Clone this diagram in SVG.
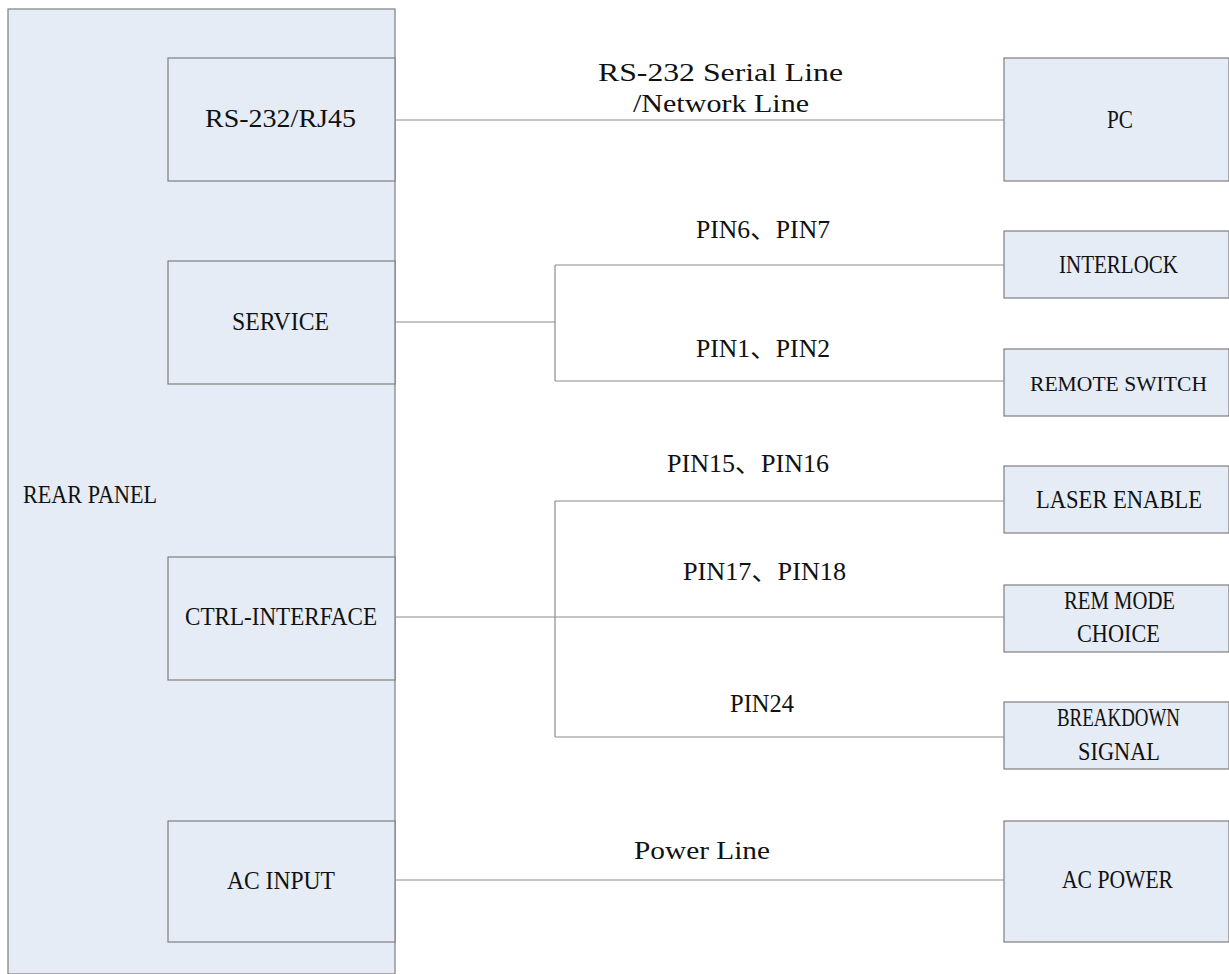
<svg xmlns="http://www.w3.org/2000/svg" width="1229" height="974" viewBox="0 0 1229 974">
<style>
.box{fill:#E5ECF6;stroke:#7F7F7F;stroke-width:1.2}
.ln{fill:none;stroke:#8C8C8C;stroke-width:1.2}
text{font-family:"Liberation Serif","Noto Sans CJK SC",serif;font-size:25px;fill:#111}
</style>
<rect width="1229" height="974" fill="#FFFFFF"/>
<g id="rear-panel">
<rect class="box" x="8" y="9" width="387" height="965"/>
<text x="23" y="503" textLength="134" lengthAdjust="spacingAndGlyphs">REAR PANEL</text>
</g>
<g id="rs232">
<rect class="box" x="168" y="58" width="227" height="123"/>
<text x="205" y="127" textLength="151" lengthAdjust="spacingAndGlyphs">RS-232/RJ45</text>
</g>
<g id="service">
<rect class="box" x="168" y="261" width="227" height="123"/>
<text x="232" y="330" textLength="97" lengthAdjust="spacingAndGlyphs">SERVICE</text>
</g>
<g id="ctrl-interface">
<rect class="box" x="168" y="557" width="227" height="123"/>
<text x="185" y="625" textLength="192" lengthAdjust="spacingAndGlyphs">CTRL-INTERFACE</text>
</g>
<g id="ac-input">
<rect class="box" x="168" y="821" width="227" height="121"/>
<text x="227" y="889" textLength="108" lengthAdjust="spacingAndGlyphs">AC INPUT</text>
</g>
<g id="pc">
<rect class="box" x="1004" y="58" width="225" height="123"/>
<text x="1107" y="128" textLength="26" lengthAdjust="spacingAndGlyphs">PC</text>
</g>
<g id="interlock">
<rect class="box" x="1004" y="231" width="225" height="67"/>
<text x="1059" y="273" textLength="119" lengthAdjust="spacingAndGlyphs">INTERLOCK</text>
</g>
<g id="remote-switch">
<rect class="box" x="1004" y="349" width="225" height="67"/>
<text x="1030" y="391" style="font-size:22px" textLength="177" lengthAdjust="spacingAndGlyphs">REMOTE SWITCH</text>
</g>
<g id="laser-enable">
<rect class="box" x="1004" y="466" width="225" height="67"/>
<text x="1036" y="508" textLength="166" lengthAdjust="spacingAndGlyphs">LASER ENABLE</text>
</g>
<g id="rem-mode-choice">
<rect class="box" x="1004" y="585" width="225" height="67"/>
<text x="1064" y="609" textLength="111" lengthAdjust="spacingAndGlyphs">REM MODE</text>
<text x="1077" y="642" textLength="83" lengthAdjust="spacingAndGlyphs">CHOICE</text>
</g>
<g id="breakdown-signal">
<rect class="box" x="1004" y="702" width="225" height="67"/>
<text x="1057" y="726" textLength="123" lengthAdjust="spacingAndGlyphs">BREAKDOWN</text>
<text x="1078" y="760" textLength="82" lengthAdjust="spacingAndGlyphs">SIGNAL</text>
</g>
<g id="ac-power">
<rect class="box" x="1004" y="821" width="225" height="121"/>
<text x="1062" y="888" textLength="111" lengthAdjust="spacingAndGlyphs">AC POWER</text>
</g>
<g id="connectors">
<path class="ln" d="M395 120H1004"/>
<path class="ln" d="M395 322H555M555 265V381M555 265H1004M555 381H1004"/>
<path class="ln" d="M395 617H1004M555 501V737M555 501H1004M555 737H1004"/>
<path class="ln" d="M395 880H1004"/>
</g>
<g id="labels">
<text x="598" y="81" textLength="245" lengthAdjust="spacingAndGlyphs">RS-232 Serial Line</text>
<text x="633" y="112" textLength="176" lengthAdjust="spacingAndGlyphs">/Network Line</text>
<text x="696" y="238" textLength="134" lengthAdjust="spacingAndGlyphs">PIN6、PIN7</text>
<text x="696" y="357" textLength="134" lengthAdjust="spacingAndGlyphs">PIN1、PIN2</text>
<text x="667" y="472" textLength="162" lengthAdjust="spacingAndGlyphs">PIN15、PIN16</text>
<text x="683" y="580" textLength="163" lengthAdjust="spacingAndGlyphs">PIN17、PIN18</text>
<text x="730" y="712" textLength="64" lengthAdjust="spacingAndGlyphs">PIN24</text>
<text x="634" y="859" textLength="136" lengthAdjust="spacingAndGlyphs">Power Line</text>
</g>
</svg>
